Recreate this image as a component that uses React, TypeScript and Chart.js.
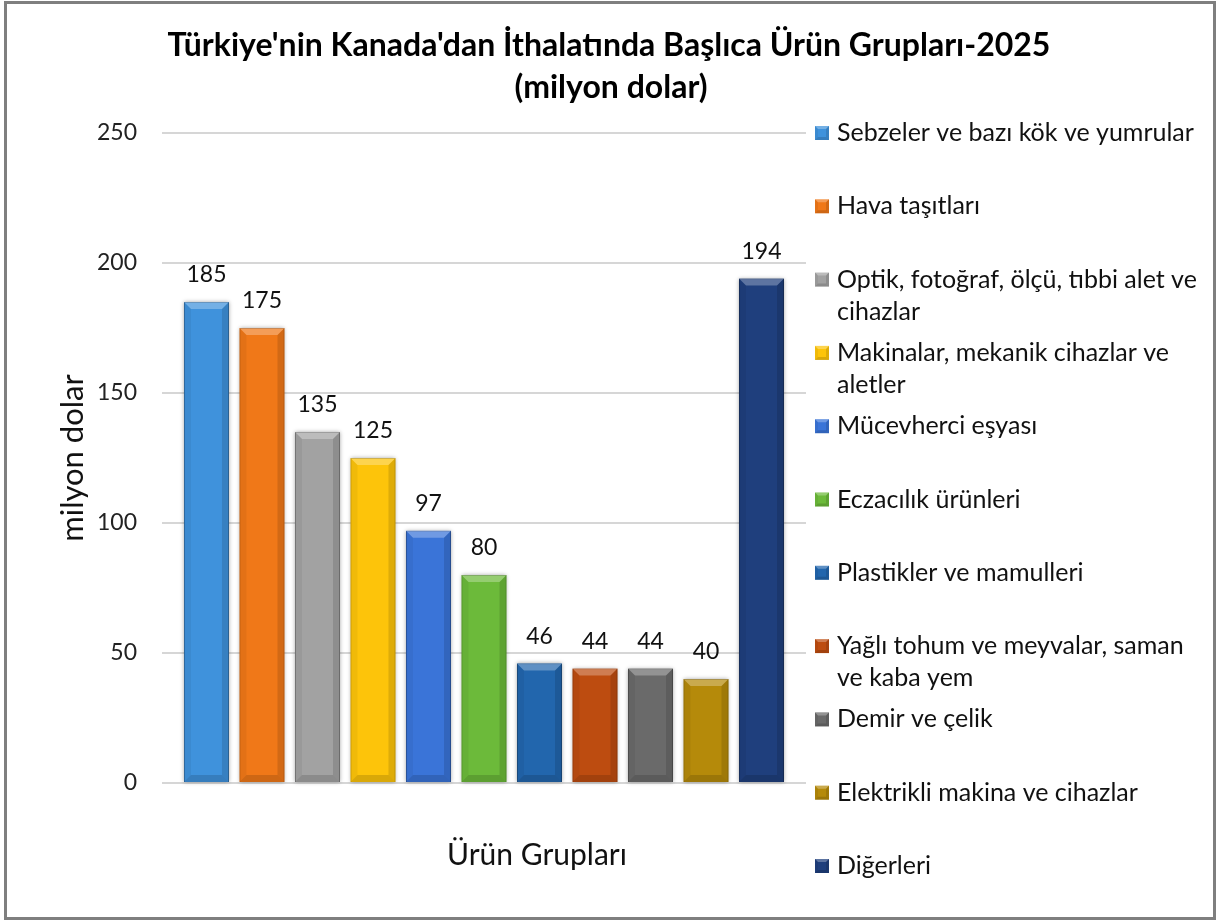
import { useEffect, useRef } from "react";
import { Chart, registerables } from "chart.js";

Chart.register(...registerables);

const TITLE_LINES = [
  "Türkiye'nin Kanada'dan İthalatında Başlıca Ürün Grupları-2025",
  "(milyon dolar)",
];
const Y_TITLE = "milyon dolar";
const X_TITLE = "Ürün Grupları";

const CATEGORIES = [
  "Sebzeler ve bazı kök ve yumrular",
  "Hava taşıtları",
  "Optik, fotoğraf, ölçü, tıbbi alet ve cihazlar",
  "Makinalar, mekanik cihazlar ve aletler",
  "Mücevherci eşyası",
  "Eczacılık ürünleri",
  "Plastikler ve mamulleri",
  "Yağlı tohum ve meyvalar, saman ve kaba yem",
  "Demir ve çelik",
  "Elektrikli makina ve cihazlar",
  "Diğerleri",
];
const VALUES = [185, 175, 135, 125, 97, 80, 46, 44, 44, 40, 194];
const COLORS = [
  "#3f92dc",
  "#f07818",
  "#a2a2a2",
  "#fdc40a",
  "#3a74d8",
  "#6cba3a",
  "#2266ad",
  "#bd4c10",
  "#6a6a6a",
  "#b58a0a",
  "#1f3f7d",
];
const Y_MIN = 0;
const Y_MAX = 250;
const Y_STEP = 50;

const FONT = "Lato, 'Open Sans', sans-serif";

function drawBevel(ctx: CanvasRenderingContext2D, l: number, t: number, r: number, b: number, s: number) {
  const poly = (pts: number[][], fill: string) => {
    ctx.beginPath();
    ctx.moveTo(pts[0][0], pts[0][1]);
    for (let i = 1; i < pts.length; i++) ctx.lineTo(pts[i][0], pts[i][1]);
    ctx.closePath();
    ctx.fillStyle = fill;
    ctx.fill();
  };
  poly([[l, t], [r, t], [r - s, t + s], [l + s, t + s]], "rgba(255,255,255,0.28)");
  poly([[l, b], [r, b], [r - s, b - s], [l + s, b - s]], "rgba(0,0,0,0.14)");
  poly([[l, t], [l + s, t + s], [l + s, b - s], [l, b]], "rgba(0,0,0,0.05)");
  poly([[r, t], [r - s, t + s], [r - s, b - s], [r, b]], "rgba(0,0,0,0.12)");
}

function wrapText(ctx: CanvasRenderingContext2D, text: string, maxW: number): string[] {
  const words = text.split(" ");
  const lines: string[] = [];
  let cur = "";
  for (const w of words) {
    const test = cur ? cur + " " + w : w;
    if (ctx.measureText(test).width > maxW && cur) {
      lines.push(cur);
      cur = w;
    } else cur = test;
  }
  if (cur) lines.push(cur);
  return lines;
}

const decorPlugin = {
  id: "decor",
  beforeDraw(chart: any) {
    const { ctx, width, height } = chart;
    ctx.save();
    ctx.fillStyle = "#ffffff";
    ctx.fillRect(0, 0, width, height);
    ctx.strokeStyle = "#7f7f7f";
    ctx.lineWidth = 3;
    ctx.strokeRect(5.5, 2.5, 1209, 916);
    ctx.restore();
  },
  beforeDatasetsDraw(chart: any) {
    const { ctx } = chart;
    ctx.save();
    chart.data.datasets.forEach((_: any, i: number) => {
      const el = chart.getDatasetMeta(i).data[0];
      if (!el) return;
      const w = el.width;
      ctx.shadowColor = "rgba(0,0,0,0.35)";
      ctx.shadowBlur = 4;
      ctx.shadowOffsetX = 0;
      ctx.shadowOffsetY = 0;
      ctx.fillStyle = COLORS[i];
      ctx.fillRect(el.x - w / 2, el.y, w, el.base - el.y);
    });
    ctx.restore();
  },
  afterDatasetsDraw(chart: any) {
    const { ctx } = chart;
    ctx.save();
    chart.data.datasets.forEach((ds: any, i: number) => {
      const el = chart.getDatasetMeta(i).data[0];
      if (!el) return;
      const w = el.width;
      drawBevel(ctx, el.x - w / 2, el.y, el.x + w / 2, el.base, 7);
      ctx.fillStyle = "#111111";
      ctx.font = `23px ${FONT}`;
      ctx.textAlign = "center";
      ctx.textBaseline = "middle";
      ctx.fillText(String(ds.data[0]), el.x, el.y - 27);
    });
    ctx.restore();
  },
  afterDraw(chart: any) {
    const { ctx, chartArea } = chart;
    ctx.save();
    // title
    ctx.fillStyle = "#000000";
    ctx.textAlign = "center";
    ctx.textBaseline = "middle";
    ctx.font = `bold 32px ${FONT}`;
    ctx.fillText(TITLE_LINES[0], 609, 46, 890);
    ctx.fillText(TITLE_LINES[1], 611, 88, 890);
    // x title
    ctx.font = `30px ${FONT}`;
    ctx.fillStyle = "#111111";
    ctx.fillText(X_TITLE, 537, 855);
    // legend
    const top = chartArea.top;
    const bottom = 866;
    const n = CATEGORIES.length;
    const step = (bottom - top) / (n - 1);
    ctx.font = `25px ${FONT}`;
    ctx.textAlign = "left";
    for (let i = 0; i < n; i++) {
      const cy = top + i * step;
      const mx = 815;
      ctx.fillStyle = COLORS[i];
      ctx.fillRect(mx, cy - 7, 14, 14);
      drawBevel(ctx, mx, cy - 7, mx + 14, cy + 7, 3);
      ctx.fillStyle = "#111111";
      const lines = wrapText(ctx, CATEGORIES[i], 362);
      lines.forEach((ln, k) => ctx.fillText(ln, 837, cy + k * 32));
    }
    ctx.restore();
  },
};

export default function App() {
  const ref = useRef<HTMLCanvasElement | null>(null);
  useEffect(() => {
    document.body.style.margin = "0";
    const canvas = ref.current;
    if (!canvas) return;
    const chart = new Chart(canvas, {
      type: "bar",
      data: {
        labels: [""],
        datasets: CATEGORIES.map((c, i) => ({
          label: c,
          data: [VALUES[i]],
          backgroundColor: COLORS[i],
          borderColor: "rgba(0,0,0,0.25)",
          borderWidth: 1,
          barPercentage: 0.81,
          categoryPercentage: 0.948,
        })),
      },
      options: {
        responsive: false,
        animation: false,
        devicePixelRatio: 1,
        layout: { padding: { top: 133, bottom: 137, left: 0, right: 411 } },
        plugins: {
          legend: { display: false },
          title: { display: false },
          tooltip: { enabled: false },
        },
        scales: {
          x: {
            grid: { display: false },
            border: { display: false },
            ticks: { display: false },
            afterFit: (s: any) => {
              s.height = 0;
            },
          },
          y: {
            min: Y_MIN,
            max: Y_MAX,
            ticks: {
              stepSize: Y_STEP,
              padding: 25,
              color: "#222222",
              font: { family: FONT, size: 23 },
            },
            grid: { color: "#d6d6d6", lineWidth: 2, drawTicks: false },
            border: { display: false },
            title: {
              display: true,
              text: Y_TITLE,
              color: "#111111",
              font: { family: FONT, size: 31 },
              padding: { top: 54, bottom: 0 },
            },
            afterFit: (s: any) => {
              s.width = 162;
            },
          },
        },
      },
      plugins: [decorPlugin],
    });
    return () => chart.destroy();
  }, []);
  return <canvas ref={ref} width={1217} height={920} style={{ display: "block" }} />;
}
